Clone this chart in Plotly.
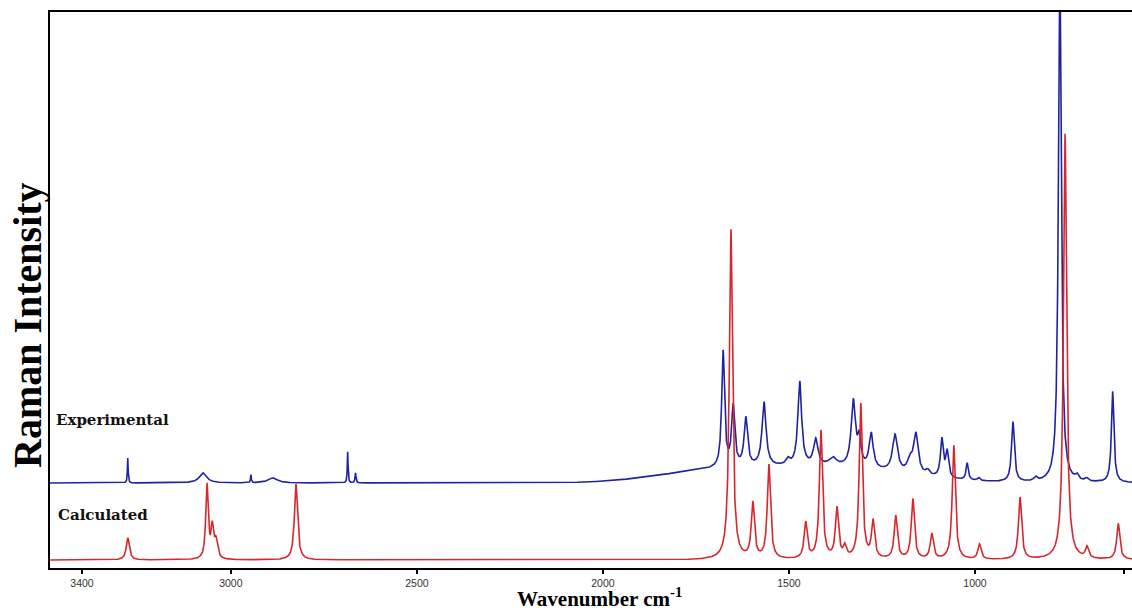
import numpy as np
import plotly.graph_objects as go

# ---------------- data ----------------
x_range = [3486, 578]
tick_vals = [3400, 3000, 2500, 2000, 1500, 1000, 600]
tick_text = ["3400", "3000", "2500", "2000", "1500", "1000", "600"]

# Calculated Raman spectrum (red): band centres (cm-1), heights, half widths
calc_pos = [3277, 3064, 3050, 3040, 2825, 1656, 1597, 1554, 1455, 1414, 1371,
            1350, 1307, 1274, 1213, 1167, 1116, 1057, 988, 879, 758, 699, 615]
calc_height = [22, 74, 30, 18, 76, 330, 55, 94, 36, 128, 50,
               11, 155, 37, 43, 60, 25, 114, 15, 62, 426, 11, 36]
calc_hwhm = [5, 4, 4, 5, 5, 5, 5, 5, 5, 5, 5,
             5, 5, 5, 5, 5, 5, 5, 5, 5, 5, 5, 5]
calc_baseline = 8

# Experimental Raman spectrum (blue): band centres, heights, half widths
exp_pos = [3277, 3075, 2946, 2887, 2686, 2665, 1677, 1650, 1616, 1567, 1503,
           1471, 1428, 1382, 1327, 1311, 1279, 1215, 1175, 1159, 1127, 1089,
           1075, 1021, 990, 898, 837, 772, 726, 700, 630]
exp_height = [25, 10, 8, 5, 31, 10, 116, 60, 48, 64, 6,
              84, 26, 8, 66, 26, 35, 37, 12, 40, 5, 38,
              26, 17, 3, 60, 4, 520, 5, 3, 91]
exp_hwhm = [1.2, 12, 1.2, 15, 1.2, 1.5, 4.5, 5, 5.5, 6.5, 6,
            6, 7, 12, 7, 5, 6.5, 8, 8, 7.5, 6, 4.5,
            4.5, 3.5, 4, 4.5, 5, 4.5, 5, 5, 4]
# broad fluorescence background bands under the experimental spectrum
exp_band_pos = [1720, 1390]
exp_band_height = [10, 15]
exp_band_sigma = [150, 190]
exp_baseline = 85

# ---------------- build the curves from the band tables ----------------
wn = np.arange(x_range[0], x_range[1] - 0.5, -0.5)


def lorentz_sum(x, pos, h, g):
    y = np.zeros_like(x)
    for p, hh, gg in zip(pos, h, g):
        y += hh / (1.0 + ((x - p) / gg) ** 2)
    return y


calc_y = calc_baseline + lorentz_sum(wn, calc_pos, calc_height, calc_hwhm)
exp_y = exp_baseline + lorentz_sum(wn, exp_pos, exp_height, exp_hwhm)
for p, hh, s in zip(exp_band_pos, exp_band_height, exp_band_sigma):
    exp_y += hh * np.exp(-0.5 * ((wn - p) / s) ** 2)

fig = go.Figure()
fig.add_trace(go.Scatter(x=wn, y=exp_y, mode="lines", name="Experimental",
                         line=dict(color="#1f23a3", width=1.6)))
fig.add_trace(go.Scatter(x=wn, y=calc_y, mode="lines", name="Calculated",
                         line=dict(color="#d9262b", width=1.6)))

serif = "Liberation Serif, Times New Roman, serif"
slab = "DejaVu Serif, serif"

fig.update_layout(
    width=1132, height=612, autosize=False,
    margin=dict(l=50, r=0, t=12, b=44),
    paper_bgcolor="white", plot_bgcolor="white",
    showlegend=False,
    xaxis=dict(range=x_range, tickvals=tick_vals, ticktext=tick_text,
               showgrid=False, zeroline=False, showline=True, linecolor="black",
               linewidth=2, mirror=True, ticks="outside", ticklen=4,
               tickwidth=1.5, tickcolor="black",
               tickfont=dict(family="Liberation Sans, Arial, sans-serif",
                             size=10.5, color="#333333")),
    yaxis=dict(range=[0, 556], showgrid=False, zeroline=False, showline=True,
               linecolor="black", linewidth=2, showticklabels=False, ticks=""),
    annotations=[
        dict(text="<b>Raman Intensity</b>", xref="paper", yref="paper",
             x=-0.0213, y=0.437, textangle=-90, showarrow=False,
             xanchor="center", yanchor="middle",
             font=dict(family=serif, size=40, color="black")),
        dict(text="<b>Wavenumber cm<sup>-1</sup></b>", xref="paper", yref="paper",
             x=0.508, y=-0.053, showarrow=False, xanchor="center",
             yanchor="middle", font=dict(family=serif, size=21, color="black")),
        dict(text="<b>Experimental</b>", xref="paper", yref="paper",
             x=0.004, y=0.266, showarrow=False, xanchor="left",
             yanchor="middle", font=dict(family=slab, size=15, color="#111111")),
        dict(text="<b>Calculated</b>", xref="paper", yref="paper",
             x=0.006, y=0.095, showarrow=False, xanchor="left",
             yanchor="middle", font=dict(family=slab, size=15, color="#111111")),
    ],
)

fig.write_html("out.html",
               config={"displayModeBar": False},
               post_script="document.body.style.margin='0px';"
                           "document.body.style.overflow='hidden';")
